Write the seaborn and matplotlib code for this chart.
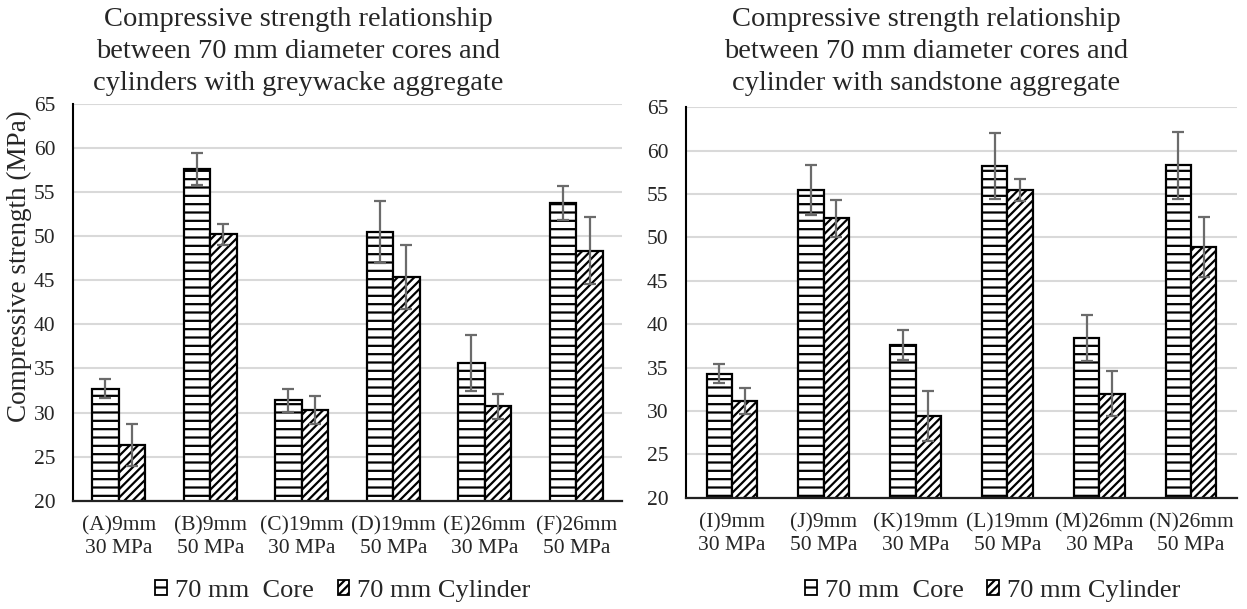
import matplotlib
matplotlib.use("Agg")
import matplotlib.pyplot as plt
from matplotlib.patches import Patch
import numpy as np
import pandas as pd
import seaborn as sns

# ---- data -------------------------------------------------------------
types = ["70 mm  Core", "70 mm Cylinder"]

grey_labels = ["(A)9mm\n30 MPa", "(B)9mm\n50 MPa", "(C)19mm\n30 MPa",
               "(D)19mm\n50 MPa", "(E)26mm\n30 MPa", "(F)26mm\n50 MPa"]
grey_core = [32.7, 57.6, 31.4, 50.5, 35.6, 53.8]
grey_core_err = [1.1, 1.8, 1.3, 3.5, 3.2, 1.95]
grey_cyl = [26.3, 50.2, 30.25, 45.4, 30.7, 48.35]
grey_cyl_err = [2.4, 1.2, 1.6, 3.6, 1.4, 3.8]

sand_labels = ["(I)9mm\n30 MPa", "(J)9mm\n50 MPa", "(K)19mm\n30 MPa",
               "(L)19mm\n50 MPa", "(M)26mm\n30 MPa", "(N)26mm\n50 MPa"]
sand_core = [34.3, 55.45, 37.6, 58.2, 38.4, 58.3]
sand_core_err = [1.1, 2.9, 1.75, 3.8, 2.7, 3.85]
sand_cyl = [31.1, 52.2, 29.4, 55.5, 32.0, 48.9]
sand_cyl_err = [1.5, 2.1, 2.9, 1.25, 2.55, 3.5]

grey_title = ("Compressive strength relationship\n"
              "between 70 mm diameter cores and\n"
              "cylinders with greywacke aggregate")
sand_title = ("Compressive strength relationship\n"
              "between 70 mm diameter cores and\n"
              "cylinder with sandstone aggregate")
ylabel = "Compressive strength (MPa)"

# ---- style ------------------------------------------------------------
sns.set_style("white")
plt.rcParams["font.family"] = ["Liberation Serif", "DejaVu Serif"]
plt.rcParams["hatch.linewidth"] = 1.6
plt.rcParams["hatch.color"] = "black"

HATCHES = ["--", "////"]
ERR_COLOR = "#6b6b6b"
GRID_COLOR = "#d9d9d9"


def to_long(labels, core, cyl):
    return pd.DataFrame({
        "specimen": labels * 2,
        "type": [types[0]] * len(labels) + [types[1]] * len(labels),
        "strength": list(core) + list(cyl),
    })


def draw_panel(ax, labels, core, core_err, cyl, cyl_err, width):
    df = to_long(labels, core, cyl)
    sns.barplot(data=df, x="specimen", y="strength", hue="type",
                order=labels, hue_order=types, palette=["white", "white"],
                saturation=1, width=width, edgecolor="black", linewidth=1.6,
                errorbar=None, legend=False, ax=ax)
    for container, hatch, errs in zip(ax.containers, HATCHES, [core_err, cyl_err]):
        xs, ys = [], []
        for bar in container:
            bar.set_hatch(hatch)
            bar.set_zorder(2)
            xs.append(bar.get_x() + bar.get_width() / 2)
            ys.append(bar.get_height())
        ax.errorbar(xs, ys, yerr=errs, fmt="none", ecolor=ERR_COLOR,
                    elinewidth=1.6, capsize=4.5, capthick=1.6, zorder=3)

    ax.set_ylim(20, 65)
    ax.set_yticks(np.arange(20, 66, 5))
    ax.set_xlim(-0.5, len(labels) - 0.5)
    ax.set_xlabel("")
    ax.set_ylabel("")
    ax.yaxis.grid(True, color=GRID_COLOR, linewidth=1.5)
    ax.xaxis.grid(False)
    ax.set_axisbelow(True)
    for side in ("top", "right"):
        ax.spines[side].set_visible(False)
    ax.spines["left"].set_color("black")
    ax.spines["left"].set_linewidth(1.5)
    ax.spines["bottom"].set_color("#222222")
    ax.spines["bottom"].set_linewidth(1.6)
    ax.tick_params(axis="y", direction="out", length=4.5, width=1.5,
                   color="black", labelsize=15.5, pad=8)
    ax.tick_params(axis="x", length=0, labelsize=15.5, pad=11)
    for t in ax.get_xticklabels():
        t.set_linespacing(1.3)


fig = plt.figure(figsize=(12.47, 6.09), dpi=100)
ax_l = fig.add_axes([0.0585, 0.1778, 0.4403, 0.6514])
ax_r = fig.add_axes([0.5501, 0.1828, 0.4419, 0.6410])

draw_panel(ax_l, grey_labels, grey_core, grey_core_err, grey_cyl, grey_cyl_err, 0.58)
draw_panel(ax_r, sand_labels, sand_core, sand_core_err, sand_cyl, sand_cyl_err, 0.55)

fig.text(0.239, 0.988, grey_title, ha="center", va="top", fontsize=20.5,
         linespacing=1.36)
fig.text(0.743, 0.988, sand_title, ha="center", va="top", fontsize=20.5,
         linespacing=1.36)
fig.text(0.0156, 0.5624, ylabel, rotation=90, ha="center", va="center",
         fontsize=19.5)

handles = [Patch(facecolor="white", edgecolor="black", hatch=h, linewidth=1.3)
           for h in HATCHES]
for cx in (0.275, 0.796):
    fig.legend(handles, types, loc="center", bbox_to_anchor=(cx, 0.0296),
               ncol=2, frameon=False, fontsize=19, handlelength=0.45,
               handleheight=0.45, handletextpad=0.3, columnspacing=0.9)

fig.savefig("out.png", dpi=100, facecolor="white")
